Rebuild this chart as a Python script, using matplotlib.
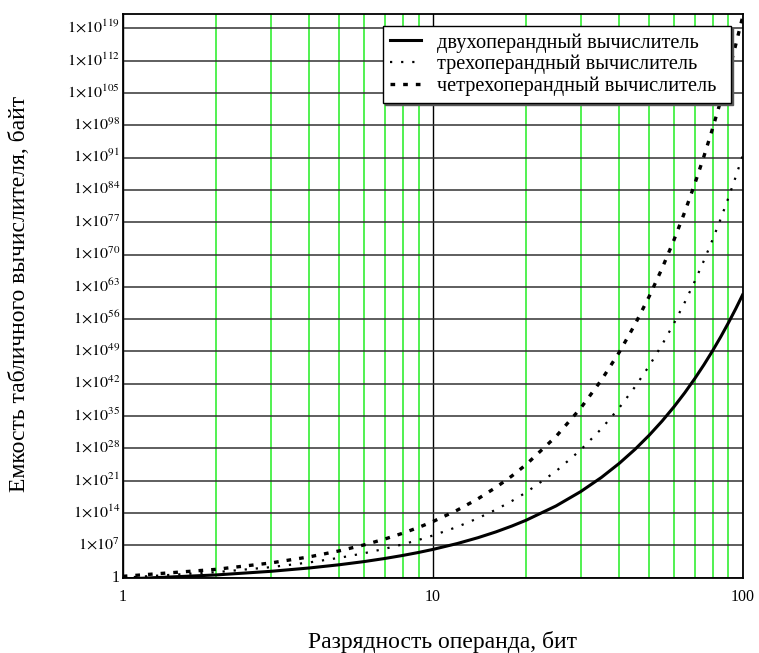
import matplotlib.pyplot as plt
from matplotlib.ticker import FixedLocator, NullFormatter
import numpy as np

plt.rcParams['font.family'] = ['Liberation Serif', 'DejaVu Serif']
plt.rcParams['mathtext.fontset'] = 'stix'

# operand width, bits
bits = [1, 2, 3, 4, 5, 6, 7, 8, 9, 10, 12, 14, 16, 18, 20, 25, 30, 35, 40, 45,
        50, 55, 60, 65, 70, 75, 80, 85, 90, 95, 100]

# table size, log10(bytes)
two_op = [-0.3, 0.6, 1.38, 2.11, 2.81, 3.49, 4.16, 4.82, 5.47, 6.12, 7.4, 8.67,
          9.93, 11.19, 12.44, 15.55, 18.64, 21.71, 24.78, 27.84, 30.9, 33.95,
          37.0, 40.04, 43.09, 46.13, 49.17, 52.2, 55.24, 58.27, 61.3]
three_op = [0.0, 1.2, 2.28, 3.31, 4.31, 5.29, 6.26, 7.22, 8.18, 9.13, 11.01,
            12.89, 14.75, 16.61, 18.46, 23.07, 27.67, 32.25, 36.82, 41.39,
            45.95, 50.51, 55.06, 59.61, 64.16, 68.7, 73.25, 77.79, 82.33,
            86.87, 91.41]
four_op = [0.3, 1.81, 3.19, 4.52, 5.82, 7.1, 8.37, 9.63, 10.89, 12.14, 14.63,
           17.1, 19.57, 22.03, 24.48, 30.6, 36.7, 42.79, 48.86, 54.94, 61.0,
           67.06, 73.12, 79.18, 85.23, 91.28, 97.33, 103.38, 109.42, 115.47,
           121.51]

labels = ['двухоперандный вычислитель',
          'трехоперандный вычислитель',
          'четрехоперандный вычислитель']

y_exps = list(range(0, 120, 7))

fig = plt.figure(figsize=(7.59, 6.53), dpi=100)
ax = fig.add_axes([0.1617, 0.1153, 0.8168, 0.8633])

ax.set_xscale('log')
ax.set_yscale('log')
ax.set_xlim(1, 100)
ax.set_ylim(1, 10**122.1)

# grid: green minor verticals, black majors
ax.xaxis.set_major_locator(FixedLocator([1, 10, 100]))
ax.xaxis.set_minor_locator(FixedLocator([2, 3, 4, 5, 6, 7, 8, 9,
                                         20, 30, 40, 50, 60, 70, 80, 90]))
ax.xaxis.set_minor_formatter(NullFormatter())
ax.set_xticklabels(['1', '10', '100'])
ax.grid(which='minor', axis='x', color='#22ee22', lw=1.1)
ax.grid(which='major', axis='x', color='black', lw=1.0)

ax.yaxis.set_major_locator(FixedLocator([10.0**e for e in y_exps]))
ax.yaxis.set_minor_locator(FixedLocator([]))
ax.set_yticklabels(['1'] + [r'$1{\times}10^{%d}$' % e for e in y_exps[1:]])
ax.grid(which='major', axis='y', color='#333333', lw=1.1)
ax.set_axisbelow(True)

ax.tick_params(which='both', length=0, labelsize=11.5)
ax.tick_params(axis='x', pad=8)
ax.tick_params(axis='y', pad=2)
for t in ax.get_yticklabels():
    t.set_verticalalignment('center')

for sp in ax.spines.values():
    sp.set_linewidth(1.3)
    sp.set_color('black')

n = np.array(bits)
ax.plot(n, 10.0**np.array(two_op), color='black', lw=2.2, label=labels[0])
ax.plot(n, 10.0**np.array(three_op), color='black', lw=1.6,
        linestyle=(0, (1, 4)), label=labels[1])
ax.plot(n, 10.0**np.array(four_op), color='black', lw=2.4,
        linestyle=(0, (1.4, 2.4)), label=labels[2])

# legend box stretched over a fixed span, entries kept at the left
leg = ax.legend(loc='upper left', bbox_to_anchor=(0.4198, 0.85, 0.5613, 0.1287),
                mode='expand', borderaxespad=0, fontsize=14.7,
                handlelength=1.5, handletextpad=0.8, labelspacing=0.1,
                borderpad=0.35, fancybox=False, framealpha=1,
                edgecolor='black',
                shadow={'ox': 1.5, 'oy': -1.5, 'color': '0.35', 'alpha': 1})
leg.get_frame().set_linewidth(1.0)

fig.text(443 / 759, 1 - 642 / 653, 'Разрядность операнда, бит',
         fontsize=17, ha='center', va='center')
fig.text(20 / 759, 1 - 294 / 653, 'Емкость табличного вычислителя, байт',
         fontsize=17, ha='center', va='center', rotation=90)

fig.savefig('out.png', dpi=100)
